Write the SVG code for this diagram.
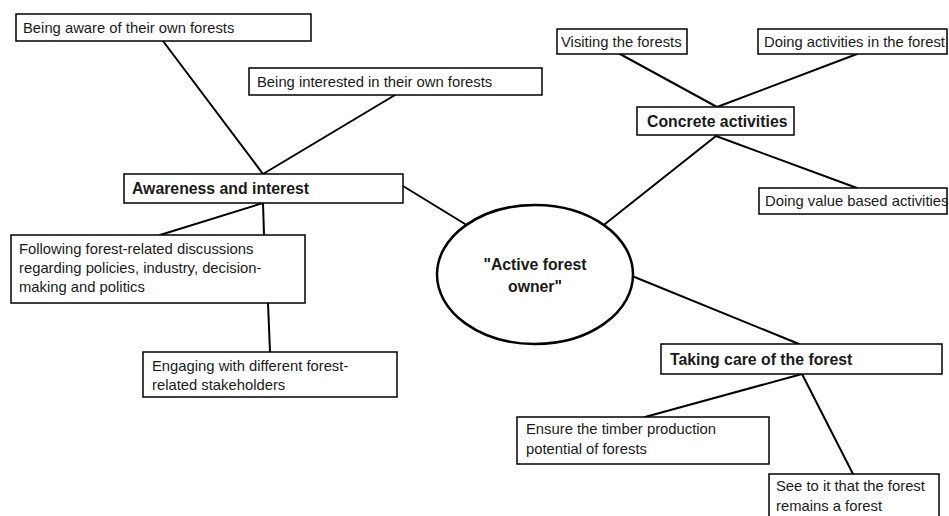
<svg xmlns="http://www.w3.org/2000/svg" width="949" height="516" viewBox="0 0 949 516">
  <style>
    .box { fill: #ffffff; stroke: #000000; stroke-width: 1.5; }
    .hub { fill: #ffffff; stroke: #000000; stroke-width: 2.5; }
    .link { stroke: #000000; stroke-width: 2; fill: none; stroke-linecap: round; }
    .t { font-family: "Liberation Sans", Arial, sans-serif; font-size: 14.8px; fill: #1a1a1a; }
    .b { font-family: "Liberation Sans", Arial, sans-serif; font-size: 15.8px; font-weight: bold; fill: #1a1a1a; }
  </style>
  <rect width="949" height="516" fill="#ffffff"/>

  <!-- connectors -->
  <g id="connectors">
    <line class="link" x1="163" y1="41" x2="263" y2="174"/>
    <line class="link" x1="395" y1="95" x2="263" y2="174"/>
    <line class="link" x1="263" y1="203" x2="160" y2="235"/>
    <line class="link" x1="263" y1="203" x2="264" y2="235"/>
    <line class="link" x1="268" y1="303" x2="270" y2="352"/>
    <line class="link" x1="403" y1="186" x2="465" y2="224"/>
    <line class="link" x1="620" y1="54" x2="717" y2="107"/>
    <line class="link" x1="857" y1="54" x2="717" y2="107"/>
    <line class="link" x1="716" y1="136" x2="605" y2="224"/>
    <line class="link" x1="716" y1="136" x2="857" y2="188"/>
    <line class="link" x1="632" y1="276" x2="799" y2="344"/>
    <line class="link" x1="802" y1="374" x2="645" y2="417"/>
    <line class="link" x1="802" y1="374" x2="853" y2="474"/>
  </g>

  <!-- central concept -->
  <g id="hub">
    <ellipse class="hub" cx="535" cy="274.5" rx="98" ry="69.5"/>
    <text class="b" x="535" y="270" text-anchor="middle">"Active forest</text>
    <text class="b" x="535" y="292" text-anchor="middle">owner"</text>
  </g>

  <!-- awareness branch -->
  <g id="aware-own">
    <rect class="box" x="16" y="14" width="295" height="27"/>
    <text class="t" x="23" y="33">Being aware of their own forests</text>
  </g>
  <g id="interested-own">
    <rect class="box" x="249" y="68" width="293" height="27"/>
    <text class="t" x="257" y="87">Being interested in their own forests</text>
  </g>
  <g id="awareness">
    <rect class="box" x="124" y="174" width="279" height="29"/>
    <text class="b" x="132" y="194">Awareness and interest</text>
  </g>
  <g id="following">
    <rect class="box" x="11" y="235" width="294" height="68"/>
    <text class="t" x="19" y="254">Following forest-related discussions</text>
    <text class="t" x="19" y="273">regarding policies, industry, decision-</text>
    <text class="t" x="19" y="292">making and politics</text>
  </g>
  <g id="engaging">
    <rect class="box" x="143" y="352" width="254" height="45"/>
    <text class="t" x="152" y="371">Engaging with different forest-</text>
    <text class="t" x="152" y="390">related stakeholders</text>
  </g>

  <!-- concrete activities branch -->
  <g id="visiting">
    <rect class="box" x="557" y="29" width="130" height="25"/>
    <text class="t" x="561" y="47">Visiting the forests</text>
  </g>
  <g id="doing-activities">
    <rect class="box" x="758" y="29" width="189" height="25"/>
    <text class="t" x="764" y="47">Doing activities in the forest</text>
  </g>
  <g id="concrete">
    <rect class="box" x="637" y="107" width="157" height="28"/>
    <text class="b" x="647" y="127">Concrete activities</text>
  </g>
  <g id="value-based">
    <rect class="box" x="759" y="188" width="188" height="26"/>
    <text class="t" x="765" y="206">Doing value based activities</text>
  </g>

  <!-- taking care branch -->
  <g id="taking-care">
    <rect class="box" x="661" y="344" width="281" height="30"/>
    <text class="b" x="670" y="365">Taking care of the forest</text>
  </g>
  <g id="timber">
    <rect class="box" x="517" y="417" width="252" height="47"/>
    <text class="t" x="526" y="434">Ensure the timber production</text>
    <text class="t" x="526" y="454">potential of forests</text>
  </g>
  <g id="remains">
    <rect class="box" x="769" y="474" width="170" height="50"/>
    <text class="t" x="776" y="491">See to it that the forest</text>
    <text class="t" x="776" y="511">remains a forest</text>
  </g>
</svg>
